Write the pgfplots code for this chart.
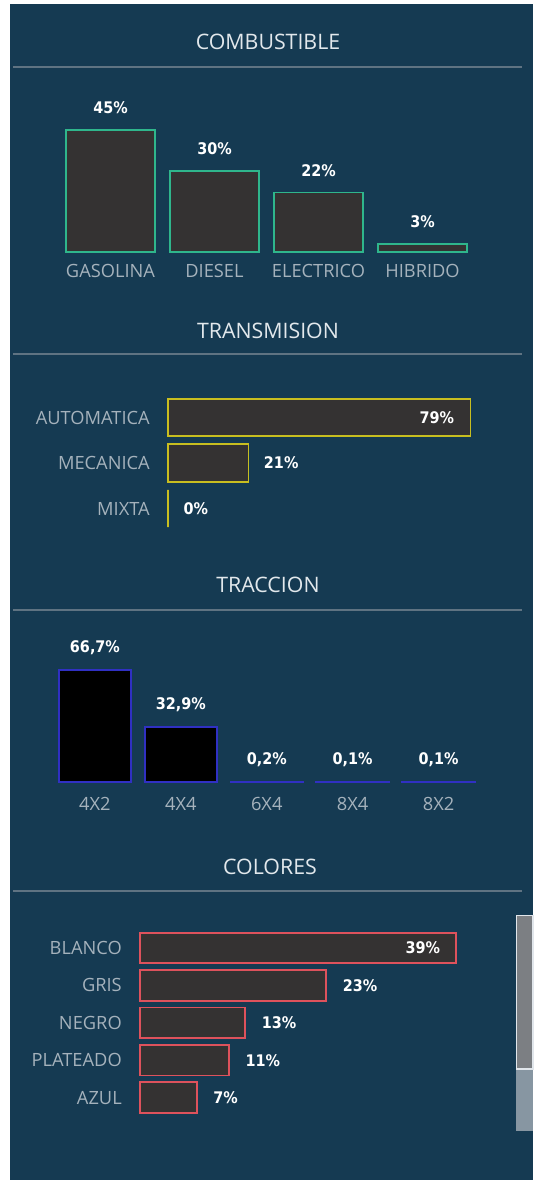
\documentclass[border=0pt]{standalone}
\usepackage{fontspec}
\setmainfont{Open Sans}
\newfontfamily\valfont{DejaVu Sans Condensed Bold}
\usepackage{pgfplots}
\pgfplotsset{compat=1.18}
\definecolor{bg}{RGB}{21,58,82}
\definecolor{barfill}{RGB}{52,50,50}
\definecolor{tealbar}{RGB}{47,182,140}
\definecolor{yelbar}{RGB}{200,190,32}
\definecolor{blubar}{RGB}{48,48,195}
\definecolor{redbar}{RGB}{222,82,92}
\definecolor{hdr}{RGB}{95,115,130}
\definecolor{titlecol}{RGB}{226,232,236}
\definecolor{catcol}{RGB}{165,178,188}
\definecolor{track}{RGB}{135,150,162}
\definecolor{thumb}{RGB}{124,127,131}
\definecolor{thumbedge}{RGB}{225,230,235}
\newcommand\vf{\valfont\fontsize{12}{14}\selectfont}
\newcommand\cf{\fontsize{13.7}{16}\selectfont}
\newcommand\tf{\fontsize{16}{19}\selectfont}
\pgfplotsset{
  base/.style={scale only axis, enlargelimits=false, clip=false,
    axis line style={draw=none}, tick style={draw=none},
    major tick length=0pt, point meta=explicit symbolic,
    nodes near coords={\pgfplotspointmeta\%},
    every node near coord/.append style={font=\vf, text=white, inner sep=0pt}},
  vbars/.style={base, ybar, anchor=south west, ytick=\empty, xtick=data,
    xticklabel style={font=\cf, text=catcol, anchor=center, inner sep=0pt},
    every node near coord/.append style={anchor=center, yshift=16.5pt}},
  hbars/.style={base, xbar, bar shift=0pt, anchor=south west, y dir=reverse,
    xtick=\empty, xmin=0,
    yticklabel style={font=\cf, text=catcol, anchor=east, inner sep=0pt, xshift=-13.5pt}},
}
\begin{document}
\begin{tikzpicture}
\begin{scope}[x=0.75pt,y=0.75pt]
\useasboundingbox (0,0) rectangle (533,1180);
\fill[white] (0,0) rectangle (533,1180);
\fill[bg] (10,0) rectangle (533,1176);
% titles and header lines
\node[font=\tf, text=titlecol] at (268,{1180-42}) {COMBUSTIBLE};
\node[font=\tf, text=titlecol] at (268,{1180-331}) {TRANSMISION};
\node[font=\tf, text=titlecol] at (268,{1180-585}) {TRACCION};
\node[font=\tf, text=titlecol] at (270,{1180-867}) {COLORES};
\foreach \yy in {67,354,610,891}{\draw[hdr, line width=1.5pt] (13,{1180-\yy}) -- (522,{1180-\yy});}
% scrollbar
\fill[track] (516,{1180-1131}) rectangle (533,{1180-1069});
\filldraw[fill=thumb, draw=thumbedge, line width=0.9pt] (516.5,{1180-1069}) rectangle (533,{1180-915.5});
\end{scope}

% COMBUSTIBLE
\begin{axis}[vbars, at={(43.875pt,696pt)}, width=312pt, height=101.6pt,
  xmin=-0.5, xmax=3.5, ymin=0, ymax=50, bar width=67pt,
  xticklabels={GASOLINA,DIESEL,ELECTRICO,HIBRIDO},
  xticklabel style={yshift=-14.25pt}]
\addplot[draw=tealbar, fill=barfill, line width=1.3pt] table[x=x,y=y,meta=lab] {
x y lab
0 45 45
1 30 30
2 22 22
3 3 3
};
\end{axis}

% TRANSMISION
\begin{axis}[hbars, at={(126pt,486.56pt)}, width=244.2pt, height=102.4pt,
  xmax=85, ymin=-0.5, ymax=2.5, bar width=28.1pt,
  ytick={0,1,2}, yticklabels={AUTOMATICA,MECANICA,MIXTA}]
\addplot[draw=yelbar, fill=barfill, line width=1.3pt,
  every node near coord/.append style={anchor=east, xshift=-11.7pt}] table[x=x,y=y,meta=lab] {
x y lab
79 0 79
};
\addplot[draw=yelbar, fill=barfill, line width=1.3pt,
  every node near coord/.append style={anchor=west, xshift=11pt}] table[x=x,y=y,meta=lab] {
x y lab
21 1 21
0 2 0
};
\end{axis}

% TRACCION
\begin{axis}[vbars, at={(39pt,298.5pt)}, width=322.1pt, height=94.5pt,
  xmin=-0.5, xmax=4.5, ymin=0, ymax=75, bar width=54.4pt,
  xticklabels={4X2,4X4,6X4,8X4,8X2},
  xticklabel style={yshift=-16.5pt}]
\addplot[draw=blubar, fill=black, line width=1.4pt] table[x=x,y=y,meta=lab] {
x y lab
0 66.7 66,7
1 32.9 32,9
2 0.2 0,2
3 0.1 0,1
4 0.1 0,1
};
\end{axis}

% COLORES
\begin{axis}[hbars, at={(105pt,47.78pt)}, width=273.4pt, height=140.25pt,
  xmax=45, ymin=-0.5, ymax=4.5, bar width=22.9pt,
  ytick={0,1,2,3,4}, yticklabels={BLANCO,GRIS,NEGRO,PLATEADO,AZUL}]
\addplot[draw=redbar, fill=barfill, line width=1.3pt,
  every node near coord/.append style={anchor=east, xshift=-11.2pt}] table[x=x,y=y,meta=lab] {
x y lab
39 0 39
};
\addplot[draw=redbar, fill=barfill, line width=1.3pt,
  every node near coord/.append style={anchor=west, xshift=11.8pt}] table[x=x,y=y,meta=lab] {
x y lab
23 1 23
13 2 13
11 3 11
7 4 7
};
\end{axis}
\end{tikzpicture}
\end{document}
